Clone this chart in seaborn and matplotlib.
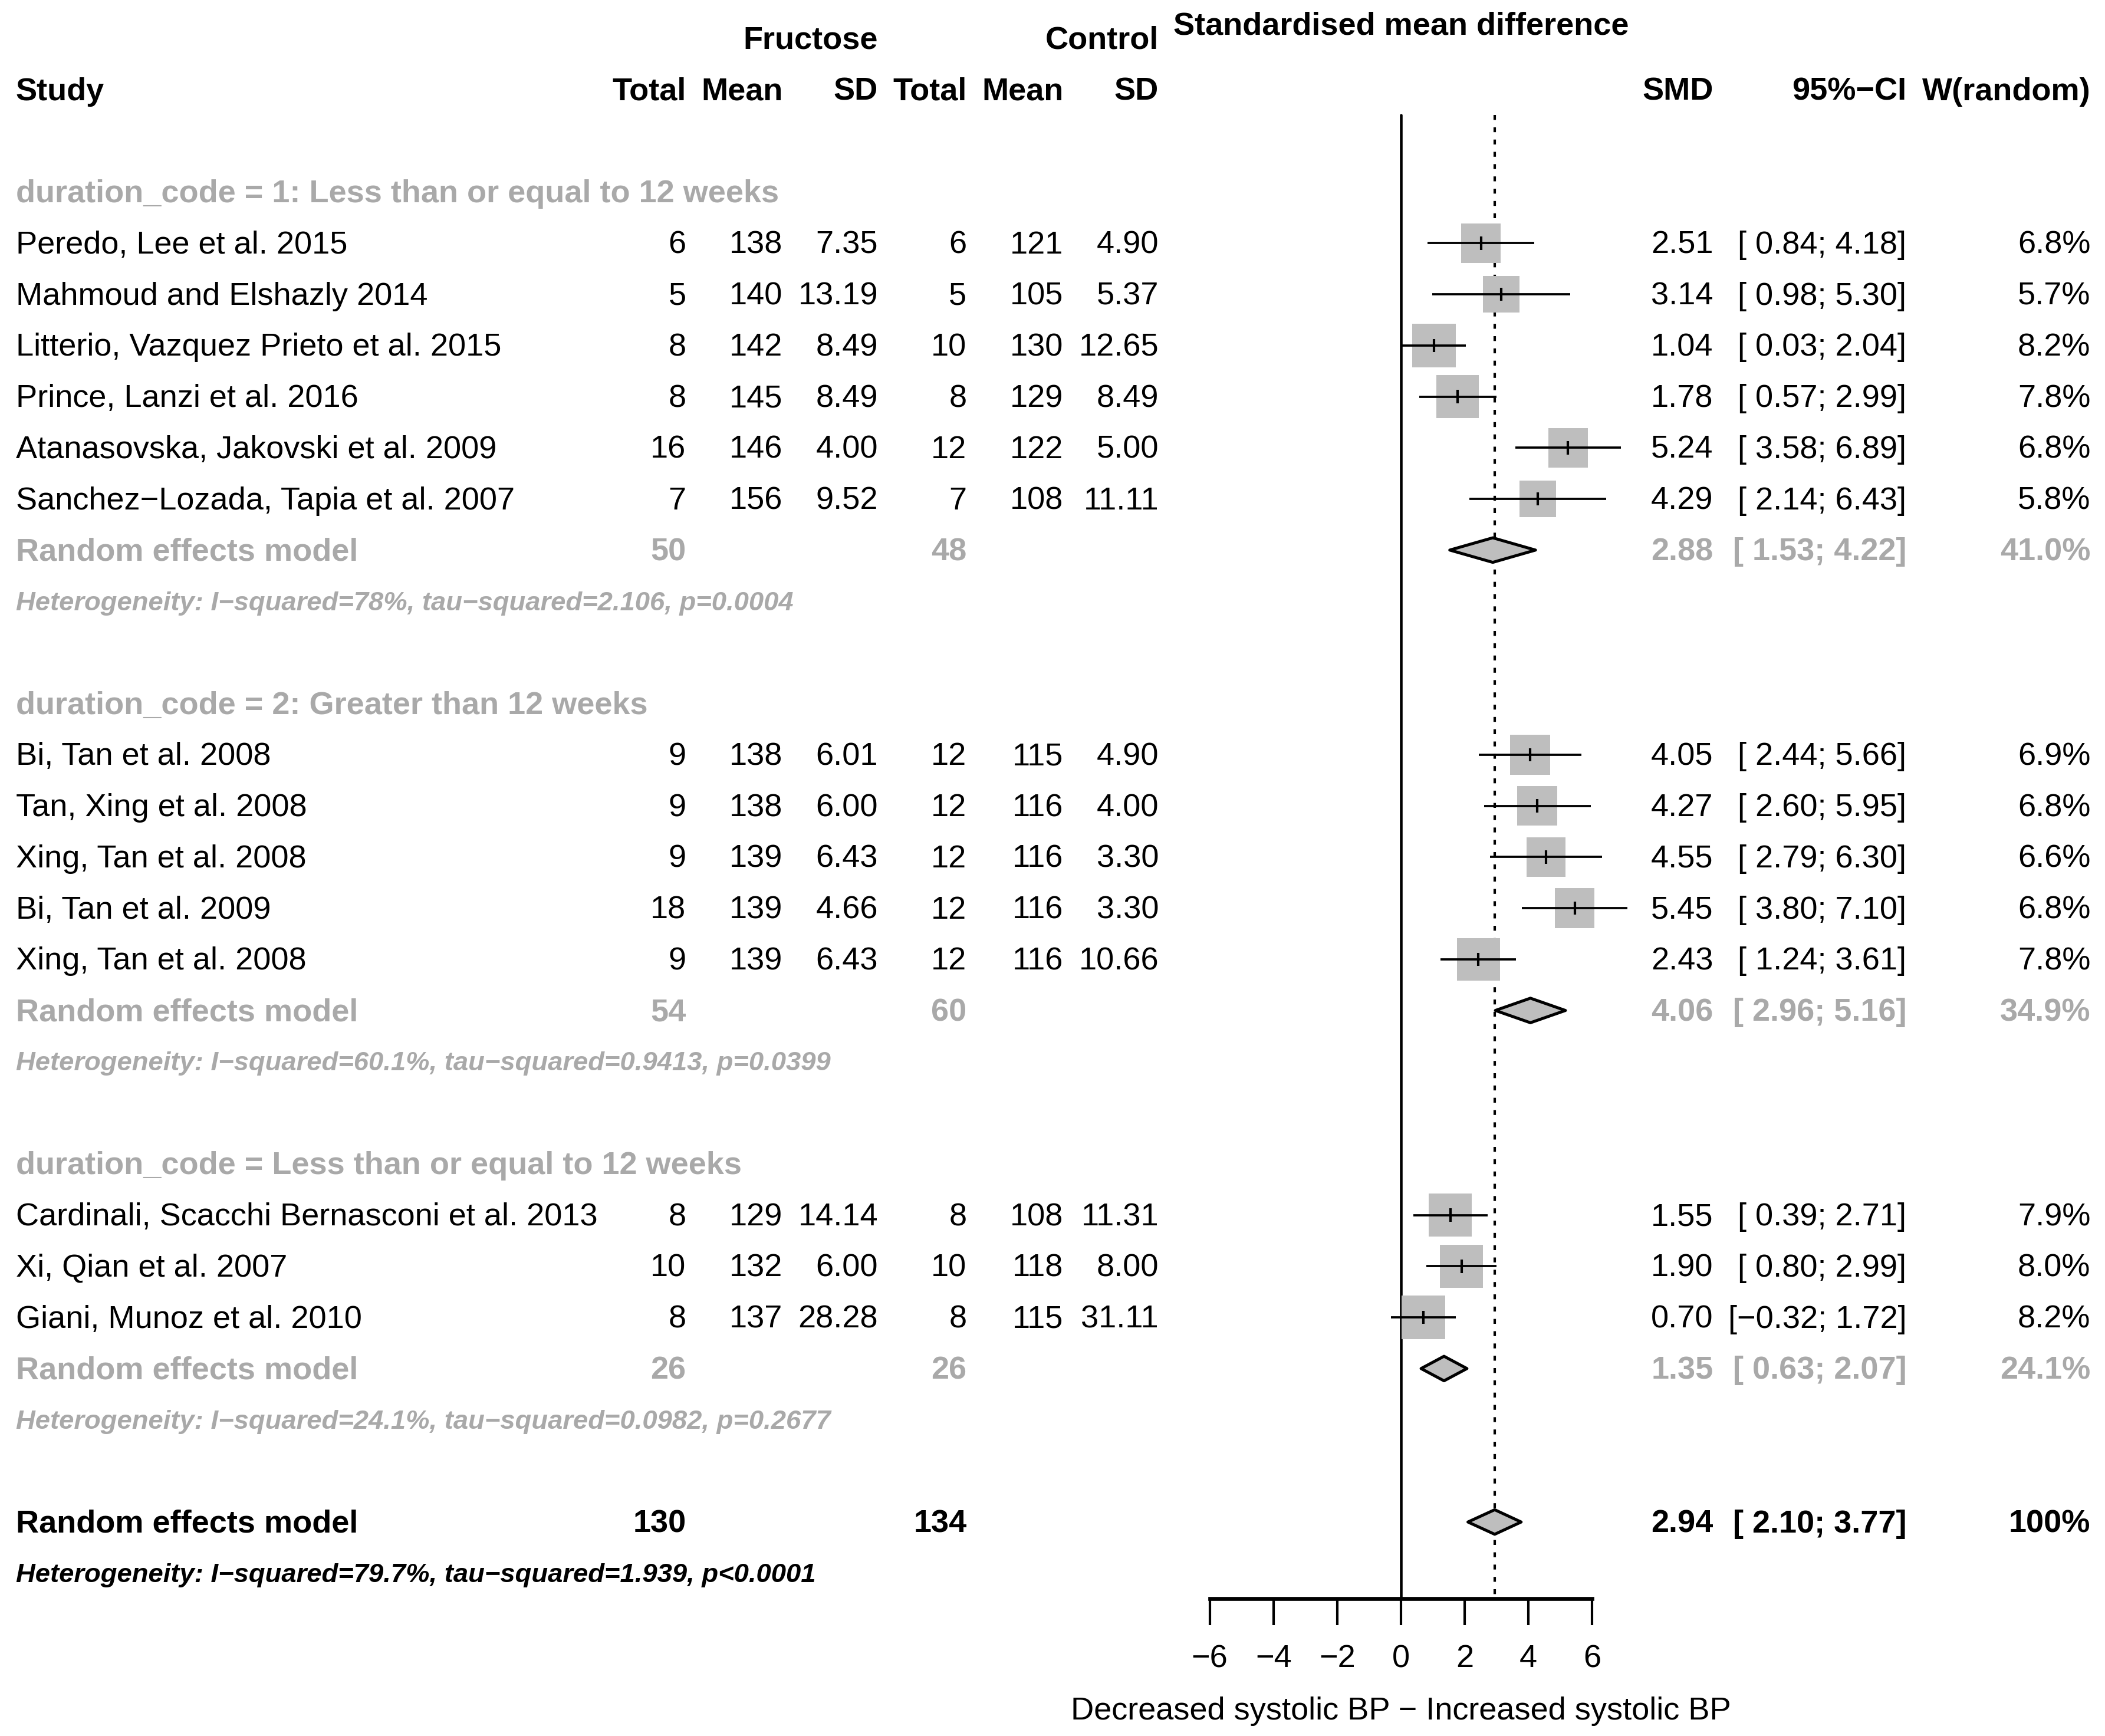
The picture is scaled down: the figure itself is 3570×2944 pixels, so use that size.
import numpy as np
import pandas as pd
import matplotlib
matplotlib.use("Agg")
import matplotlib.pyplot as plt
import matplotlib.transforms as mtransforms
from matplotlib.patches import Polygon
import seaborn as sns

# study level data, in the order they appear
studies = [
    "Peredo, Lee et al. 2015",
    "Mahmoud and Elshazly 2014",
    "Litterio, Vazquez Prieto et al. 2015",
    "Prince, Lanzi et al. 2016",
    "Atanasovska, Jakovski et al. 2009",
    "Sanchez\u2212Lozada, Tapia et al. 2007",
    "Bi, Tan et al. 2008",
    "Tan, Xing et al. 2008",
    "Xing, Tan et al. 2008",
    "Bi, Tan et al. 2009",
    "Xing, Tan et al. 2008",
    "Cardinali, Scacchi Bernasconi et al. 2013",
    "Xi, Qian et al. 2007",
    "Giani, Munoz et al. 2010",
]
group_id = [1, 1, 1, 1, 1, 1, 2, 2, 2, 2, 2, 3, 3, 3]
fru_total = [6, 5, 8, 8, 16, 7, 9, 9, 9, 18, 9, 8, 10, 8]
fru_mean = [138, 140, 142, 145, 146, 156, 138, 138, 139, 139, 139, 129, 132, 137]
fru_sd = [7.35, 13.19, 8.49, 8.49, 4.00, 9.52, 6.01, 6.00, 6.43, 4.66, 6.43, 14.14, 6.00, 28.28]
ctl_total = [6, 5, 10, 8, 12, 7, 12, 12, 12, 12, 12, 8, 10, 8]
ctl_mean = [121, 105, 130, 129, 122, 108, 115, 116, 116, 116, 116, 108, 118, 115]
ctl_sd = [4.90, 5.37, 12.65, 8.49, 5.00, 11.11, 4.90, 4.00, 3.30, 3.30, 10.66, 11.31, 8.00, 31.11]
smd = [2.51, 3.14, 1.04, 1.78, 5.24, 4.29, 4.05, 4.27, 4.55, 5.45, 2.43, 1.55, 1.90, 0.70]
ci_low = [0.84, 0.98, 0.03, 0.57, 3.58, 2.14, 2.44, 2.60, 2.79, 3.80, 1.24, 0.39, 0.80, -0.32]
ci_high = [4.18, 5.30, 2.04, 2.99, 6.89, 6.43, 5.66, 5.95, 6.30, 7.10, 3.61, 2.71, 2.99, 1.72]
weight = [6.8, 5.7, 8.2, 7.8, 6.8, 5.8, 6.9, 6.8, 6.6, 6.8, 7.8, 7.9, 8.0, 8.2]

# subgroup summaries
group_labels = [
    "duration_code = 1: Less than or equal to 12 weeks",
    "duration_code = 2: Greater than 12 weeks",
    "duration_code = Less than or equal to 12 weeks",
]
group_fru_total = [50, 54, 26]
group_ctl_total = [48, 60, 26]
group_smd = [2.88, 4.06, 1.35]
group_low = [1.53, 2.96, 0.63]
group_high = [4.22, 5.16, 2.07]
group_weight = [41.0, 34.9, 24.1]
group_het = [
    "Heterogeneity: I\u2212squared=78%, tau\u2212squared=2.106, p=0.0004",
    "Heterogeneity: I\u2212squared=60.1%, tau\u2212squared=0.9413, p=0.0399",
    "Heterogeneity: I\u2212squared=24.1%, tau\u2212squared=0.0982, p=0.2677",
]

# overall random effects model
overall_fru_total = 130
overall_ctl_total = 134
overall_smd = 2.94
overall_low = 2.10
overall_high = 3.77
overall_het = "Heterogeneity: I\u2212squared=79.7%, tau\u2212squared=1.939, p<0.0001"

x_ticks = [-6, -4, -2, 0, 2, 4, 6]
x_label = "Decreased systolic BP \u2212 Increased systolic BP"

GREY_TXT = "#A9A9A9"
GREY_FILL = "#BEBEBE"
FS = 13
FS_HET = 10.9
DY = 0.04  # small nudge so text centres sit on the row like R's grid text

sns.set_theme(style="white")
plt.rcParams["font.family"] = ["Liberation Sans", "DejaVu Sans"]
plt.rcParams["axes.unicode_minus"] = True


def fmt_ci(lo, hi):
    return f"[{lo:5.2f}; {hi:.2f}]".replace("-", "\u2212")


# row layout: header, studies, summary, heterogeneity, blank
study_row = []
header_row, re_row, het_row = [], [], []
r = 0
for g in range(len(group_labels)):
    header_row.append(r)
    r += 1
    for gid in group_id:
        if gid == g + 1:
            study_row.append(r)
            r += 1
    re_row.append(r)
    het_row.append(r + 1)
    r += 3
overall_row = r
overall_het_row = r + 1
axis_row = r + 1.5

df = pd.DataFrame({
    "study": studies, "row": study_row, "smd": smd,
    "lo": ci_low, "hi": ci_high, "w": weight,
})
df["size"] = 17.8 ** 2 * df["w"] / 8.2

W, H = 3570, 2944
fig = plt.figure(figsize=(W / 300, H / 300), dpi=300)
fig.patch.set_facecolor("white")

# forest panel: -6..6 on x, rows on y
x0_px, unit_px = 2376.0, 54.07
ax = fig.add_axes([(x0_px - 6 * unit_px) / W, 0, 12 * unit_px / W, 1])
ax.set_xlim(-6, 6)
row0_px, step_px = 325.6, 86.75
ax.set_ylim((H - row0_px) / step_px, -row0_px / step_px)
ax.set_facecolor("none")
for s in ["top", "left", "right"]:
    ax.spines[s].set_visible(False)
ax.spines["bottom"].set_position(("data", axis_row))
ax.spines["bottom"].set_linewidth(1.6)
ax.spines["bottom"].set_color("black")
ax.set_xticks(x_ticks)
ax.set_yticks([])
ax.tick_params(axis="x", direction="out", length=10.8, width=1.0, color="black",
               labelsize=FS, labelcolor="black", pad=7.7, bottom=True)
ax.grid(False)

# reference lines
ax.plot([0, 0], [-1.5, axis_row], color="black", lw=1.1, clip_on=False, zorder=1)
ax.plot([overall_smd, overall_smd], [-1.5, axis_row], color="black", lw=1.0,
        dashes=(2.0, 3.0), clip_on=False, zorder=1)

# study squares, CIs and estimate ticks
sns.scatterplot(data=df, x="smd", y="row", s=df["size"], marker="s", color=GREY_FILL,
                linewidth=0, ax=ax, legend=False, clip_on=False, zorder=2)
ax.hlines(df["row"], df["lo"], df["hi"], color="black", lw=0.9, clip_on=False, zorder=3)
ax.vlines(df["smd"], df["row"] - 0.13, df["row"] + 0.13, color="black", lw=1.0,
          clip_on=False, zorder=3)
ax.set_xlabel("")
ax.set_ylabel("")


def diamond(est, lo, hi, row):
    h = 0.24
    poly = Polygon([(lo, row), (est, row - h), (hi, row), (est, row + h)], closed=True,
                   facecolor=GREY_FILL, edgecolor="black", lw=1.2, joinstyle="round",
                   clip_on=False, zorder=3)
    ax.add_patch(poly)


for g in range(len(group_labels)):
    diamond(group_smd[g], group_low[g], group_high[g], re_row[g])
diamond(overall_smd, overall_low, overall_high, overall_row)

# text columns (x in figure fraction, y in rows)
tr = mtransforms.blended_transform_factory(fig.transFigure, ax.transData)
col_study = 27 / W
col_t1, col_m1, col_s1 = 1163.5 / W, 1327.5 / W, 1489 / W
col_t2, col_m2, col_s2 = 1639.4 / W, 1803.4 / W, 1965 / W
col_smd, col_ci, col_w = 2905.5 / W, 3233.3 / W, 3545.3 / W


def put(x, row, s, ha="right", color="black", weight="normal", style="normal", size=FS):
    ax.text(x, row + DY, s, transform=tr, ha=ha, va="center", color=color,
            fontweight=weight, fontstyle=style, fontsize=size, clip_on=False)


# headers
put(col_s1, -3, "Fructose", weight="bold")
put(col_s2, -3, "Control", weight="bold")
ax.text(0, -3.28 + DY, "Standardised mean difference", ha="center", va="center",
        fontsize=FS, fontweight="bold", color="black", clip_on=False)
put(col_study, -2, "Study", ha="left", weight="bold")
for x, s in [(col_t1, "Total"), (col_m1, "Mean"), (col_s1, "SD"),
             (col_t2, "Total"), (col_m2, "Mean"), (col_s2, "SD"),
             (col_smd, "SMD"), (col_ci, "95%\u2212CI"), (col_w, "W(random)")]:
    put(x, -2, s, weight="bold")

# study rows
for i in range(len(studies)):
    rr = study_row[i]
    put(col_study, rr, studies[i], ha="left")
    put(col_t1, rr, f"{fru_total[i]}")
    put(col_m1, rr, f"{fru_mean[i]}")
    put(col_s1, rr, f"{fru_sd[i]:.2f}")
    put(col_t2, rr, f"{ctl_total[i]}")
    put(col_m2, rr, f"{ctl_mean[i]}")
    put(col_s2, rr, f"{ctl_sd[i]:.2f}")
    put(col_smd, rr, f"{smd[i]:.2f}")
    put(col_ci, rr, fmt_ci(ci_low[i], ci_high[i]))
    put(col_w, rr, f"{weight[i]:.1f}%")

# subgroup rows
for g in range(len(group_labels)):
    put(col_study, header_row[g], group_labels[g], ha="left", color=GREY_TXT, weight="bold")
    rr = re_row[g]
    put(col_study, rr, "Random effects model", ha="left", color=GREY_TXT, weight="bold")
    put(col_t1, rr, f"{group_fru_total[g]}", color=GREY_TXT, weight="bold")
    put(col_t2, rr, f"{group_ctl_total[g]}", color=GREY_TXT, weight="bold")
    put(col_smd, rr, f"{group_smd[g]:.2f}", color=GREY_TXT, weight="bold")
    put(col_ci, rr, fmt_ci(group_low[g], group_high[g]), color=GREY_TXT, weight="bold")
    put(col_w, rr, f"{group_weight[g]:.1f}%", color=GREY_TXT, weight="bold")
    put(col_study, het_row[g], group_het[g], ha="left", color=GREY_TXT, weight="bold",
        style="italic", size=FS_HET)

# overall rows
put(col_study, overall_row, "Random effects model", ha="left", weight="bold")
put(col_t1, overall_row, f"{overall_fru_total}", weight="bold")
put(col_t2, overall_row, f"{overall_ctl_total}", weight="bold")
put(col_smd, overall_row, f"{overall_smd:.2f}", weight="bold")
put(col_ci, overall_row, fmt_ci(overall_low, overall_high), weight="bold")
put(col_w, overall_row, "100%", weight="bold")
put(col_study, overall_het_row, overall_het, ha="left", weight="bold", style="italic",
    size=FS_HET)

ax.text(0, axis_row + 2.16 + DY, x_label, ha="center", va="center", fontsize=FS,
        color="black", clip_on=False)

fig.savefig("out.png", dpi=300, facecolor="white")
